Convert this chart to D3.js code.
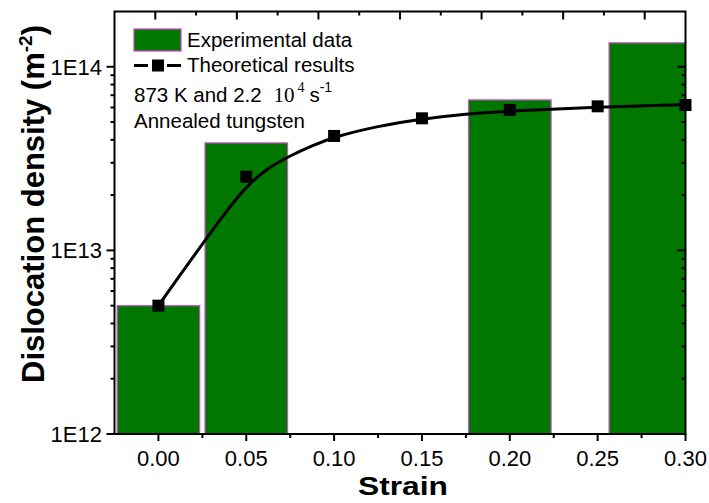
<!DOCTYPE html>
<html>
<head>
<meta charset="utf-8">
<script src="https://cdn.jsdelivr.net/npm/d3@7"></script>
<style>
  html, body { margin: 0; padding: 0; background: #fff; }
  svg { display: block; font-family: "Liberation Sans", Arial, sans-serif; }
</style>
</head>
<body>
<svg id="chart" width="709" height="503"></svg>
<script>
// ---- data ----
const barStrains = [0.00, 0.05, 0.20, 0.28];
const barValues  = [5.0e12, 3.85e13, 6.6e13, 1.35e14];
const barWidthStrain = 0.047;

const pointStrains = [0.00, 0.05, 0.10, 0.15, 0.20, 0.25, 0.30];
const pointValues  = [5.0e12, 2.52e13, 4.2e13, 5.24e13, 5.82e13, 6.09e13, 6.19e13];

const curveStrains = [0.00, 0.0125, 0.025, 0.0375, 0.05, 0.0625, 0.075, 0.0875, 0.10, 0.125, 0.15, 0.175, 0.20, 0.25, 0.30];
const curveValues  = [5.0e12, 7.4e12, 1.08e13, 1.58e13, 2.24e13, 2.82e13, 3.28e13, 3.72e13, 4.15e13, 4.76e13, 5.2e13, 5.54e13, 5.74e13, 6.04e13, 6.23e13];

const xTickValues = [0.00, 0.05, 0.10, 0.15, 0.20, 0.25, 0.30];
const xTickLabels = ["0.00", "0.05", "0.10", "0.15", "0.20", "0.25", "0.30"];
const xMinorTicks = [0.025, 0.075, 0.125, 0.175, 0.225, 0.275];
const yTickValues = [1e12, 1e13, 1e14];
const yTickLabels = ["1E12", "1E13", "1E14"];
const topMajorTicks = [0, 1, 2, 3, 4, 5, 6];
const topMinorTicks = [0.5, 1.5, 2.5, 3.5, 4.5, 5.5];

const legendLabels = ["Experimental data", "Theoretical results"];

// ---- layout ----
const L = 114.5, R = 685.5, T = 11.5, B = 434;
const svg = d3.select("#chart");

const x = d3.scaleLinear().domain([-0.025, 0.30]).range([L, R]);
const y = d3.scaleLog().domain([1e12, 2e14]).range([B, T]);
const xTop = d3.scaleLinear().domain([-0.5, 6.5]).range([L, R]);

const yMinor = [];
[1e12, 1e13].forEach(d => { for (let k = 2; k <= 9; k++) yMinor.push(d * k); });

svg.append("defs").append("clipPath").attr("id", "clip")
  .append("rect").attr("x", L).attr("y", T).attr("width", R - L).attr("height", B - T);

const plot = svg.append("g").attr("clip-path", "url(#clip)");

plot.selectAll("rect.bar").data(barStrains).join("rect")
  .attr("class", "bar")
  .attr("x", (d) => x(d - barWidthStrain / 2))
  .attr("width", (d) => x(d + barWidthStrain / 2) - x(d - barWidthStrain / 2))
  .attr("y", (d, i) => y(barValues[i]))
  .attr("height", (d, i) => B - y(barValues[i]))
  .attr("fill", "#007800")
  .attr("stroke", "#c850c8")
  .attr("stroke-width", 1.2);

const curvePts = curveStrains.map((s, i) => [x(s), y(curveValues[i])]);
plot.append("path")
  .attr("d", d3.line().curve(d3.curveBasis)(curvePts))
  .attr("fill", "none").attr("stroke", "#000").attr("stroke-width", 3);

const ms = 12;
svg.selectAll("rect.pt").data(pointStrains).join("rect")
  .attr("class", "pt")
  .attr("x", d => x(d) - ms / 2)
  .attr("y", (d, i) => y(pointValues[i]) - ms / 2)
  .attr("width", ms).attr("height", ms)
  .attr("fill", "#000");

// ---- axes ----
const ax = svg.append("g").attr("stroke", "#000").attr("stroke-width", 2);
ax.append("rect").attr("x", L).attr("y", T).attr("width", R - L).attr("height", B - T).attr("fill", "none");

ax.selectAll("line.bmaj").data(xTickValues).join("line")
  .attr("x1", d => x(d)).attr("x2", d => x(d)).attr("y1", B).attr("y2", B + 7);
ax.selectAll("line.bmin").data(xMinorTicks).join("line")
  .attr("x1", d => x(d)).attr("x2", d => x(d)).attr("y1", B).attr("y2", B + 4);
ax.selectAll("line.tmaj").data(topMajorTicks).join("line")
  .attr("x1", d => xTop(d)).attr("x2", d => xTop(d)).attr("y1", T).attr("y2", T + 8);
ax.selectAll("line.tmin").data(topMinorTicks).join("line")
  .attr("x1", d => xTop(d)).attr("x2", d => xTop(d)).attr("y1", T).attr("y2", T + 4);
ax.selectAll("line.lmaj").data(yTickValues).join("line")
  .attr("x1", L).attr("x2", L - 8).attr("y1", d => y(d)).attr("y2", d => y(d));
ax.selectAll("line.lmin").data(yMinor).join("line")
  .attr("x1", L).attr("x2", L - 4).attr("y1", d => y(d)).attr("y2", d => y(d));
ax.selectAll("line.rmaj").data(yTickValues).join("line")
  .attr("x1", R).attr("x2", R - 8).attr("y1", d => y(d)).attr("y2", d => y(d));
ax.selectAll("line.rmin").data(yMinor).join("line")
  .attr("x1", R).attr("x2", R - 4).attr("y1", d => y(d)).attr("y2", d => y(d));

svg.selectAll("text.xl").data(xTickValues).join("text")
  .attr("x", d => x(d)).attr("y", 466)
  .attr("text-anchor", "middle").attr("font-size", 22)
  .text((d, i) => xTickLabels[i]);
svg.selectAll("text.yl").data(yTickValues).join("text")
  .attr("x", 102).attr("y", d => y(d) + 8)
  .attr("text-anchor", "end").attr("font-size", 22)
  .text((d, i) => yTickLabels[i]);

svg.append("text").attr("x", 403).attr("y", 495)
  .attr("text-anchor", "middle").attr("font-size", 26).attr("font-weight", "bold")
  .attr("textLength", 90).attr("lengthAdjust", "spacingAndGlyphs")
  .text("Strain");
const yl = svg.append("text")
  .attr("transform", "translate(44,204) rotate(-90)")
  .attr("text-anchor", "middle").attr("font-size", 31).attr("font-weight", "bold");
yl.append("tspan").text("Dislocation density (m");
yl.append("tspan").attr("font-size", 19).attr("dy", -12).text("-2");
yl.append("tspan").attr("dy", 12).text(")");

// legend
const lg = svg.append("g");
lg.append("rect").attr("x", 134).attr("y", 29).attr("width", 47).attr("height", 22)
  .attr("fill", "#007800").attr("stroke", "#d040d0").attr("stroke-width", 1.2);
lg.append("text").attr("x", 187).attr("y", 47).attr("font-size", 20.5).text(legendLabels[0]);
lg.append("line").attr("x1", 134).attr("x2", 148).attr("y1", 65.5).attr("y2", 65.5).attr("stroke", "#000").attr("stroke-width", 3);
lg.append("line").attr("x1", 167).attr("x2", 181).attr("y1", 65.5).attr("y2", 65.5).attr("stroke", "#000").attr("stroke-width", 3);
lg.append("rect").attr("x", 152).attr("y", 59.5).attr("width", 12).attr("height", 12).attr("fill", "#000");
lg.append("text").attr("x", 187).attr("y", 72).attr("font-size", 20.5).text(legendLabels[1]);

const t3 = lg.append("text").attr("x", 134).attr("y", 102).attr("font-size", 20.5);
t3.append("tspan").text("873 K and 2.2 ");
t3.append("tspan").attr("font-family", "Liberation Serif, Times New Roman, serif").attr("font-size", 21).attr("dx", 6).text("10");
t3.append("tspan").attr("font-family", "Liberation Serif, Times New Roman, serif").attr("font-size", 14).attr("dx", 3).attr("dy", -10).text("4");
t3.append("tspan").attr("dx", 5).attr("dy", 10).text("s");
t3.append("tspan").attr("font-size", 14).attr("dy", -10).text("-1");
lg.append("text").attr("x", 134).attr("y", 128).attr("font-size", 20.5).text("Annealed tungsten");
</script>
</body>
</html>
